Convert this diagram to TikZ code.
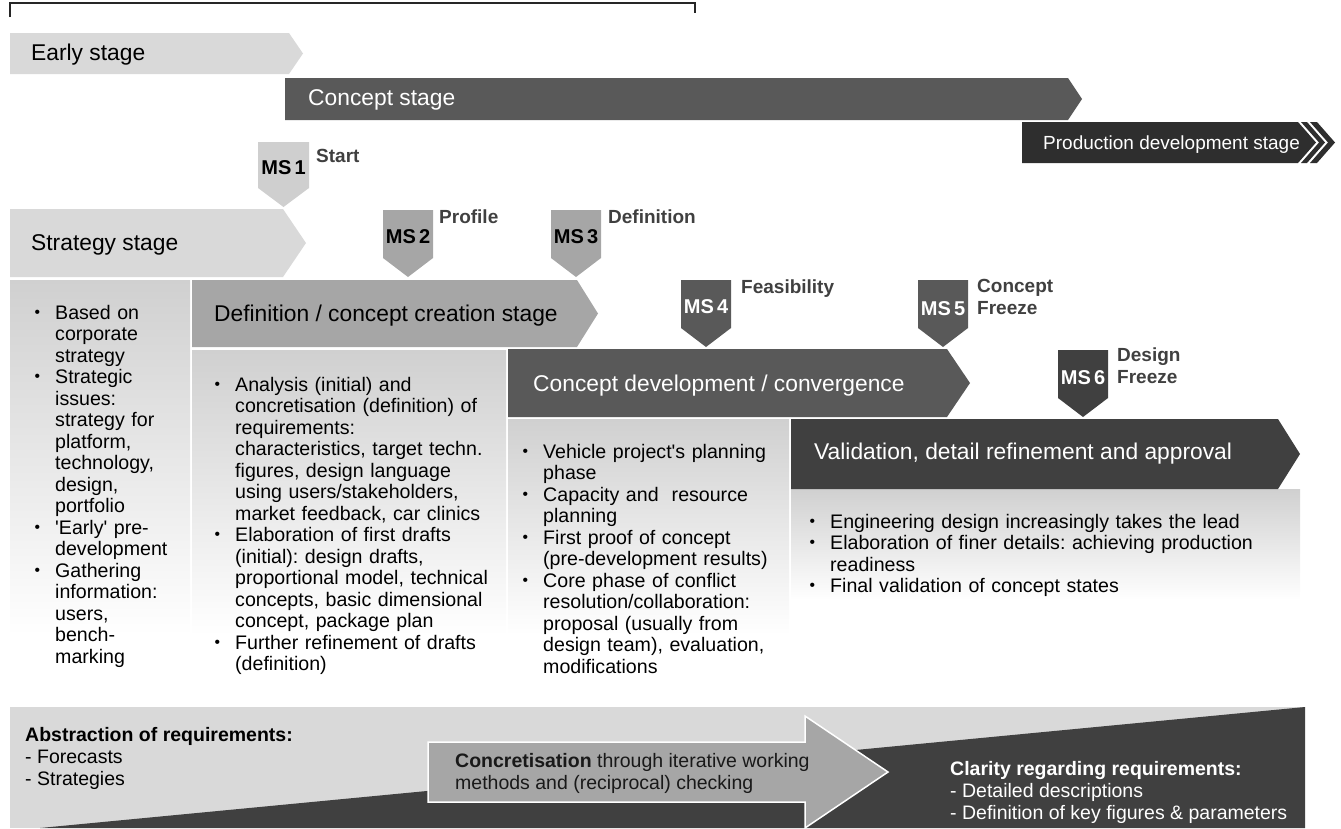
\documentclass[tikz,border=0pt]{standalone}
\usepackage{fontspec}
\setmainfont{Liberation Sans}
\usepackage{graphicx}
\usepackage{enumitem}
\usetikzlibrary{positioning}

\definecolor{stLight}{HTML}{D9D9D9}
\definecolor{msLight}{HTML}{CFCFCF}
\definecolor{stMid}{HTML}{A6A6A6}
\definecolor{stDark}{HTML}{595959}
\definecolor{stDarker}{HTML}{404040}
\definecolor{stDeep}{HTML}{2E2E2E}
\definecolor{labGrey}{HTML}{404040}
\definecolor{colTop}{HTML}{D0D0D0}

\newcommand\stagefont{\fontsize{22.8}{27}\selectfont}
\newcommand\prodfont{\fontsize{19}{23}\selectfont}
\newcommand\txtfont{\fontsize{19.6}{21.5}\selectfont}
\newcommand\bandfont{\fontsize{19.5}{22}\selectfont}
\newcommand\msfont{\fontsize{19}{22}\selectfont\bfseries}
\newcommand\msnum{\fontsize{20}{22}\selectfont\bfseries}
\frenchspacing

\newlist{blist}{itemize}{1}
\setlist[blist]{label={\raisebox{0.12em}{\scalebox{0.8}{\textbullet}}}, leftmargin=20pt,
  labelsep=15pt, itemsep=0pt, topsep=0pt, parsep=0pt, partopsep=0pt}

\begin{document}
\begin{tikzpicture}[x=1pt, y=-1pt,
  stagelab/.style={anchor=base west, inner sep=0pt, font=\stagefont},
  mstxt/.style={anchor=base, inner sep=0pt, font=\msnum},
  mslab/.style={anchor=base west, inner sep=0pt, font=\msfont, text=labGrey},
  mslabb/.style={anchor=north west, inner sep=0pt, font=\msfont, text=labGrey, align=left},
  bul/.style={anchor=north west, inner sep=0pt, font=\txtfont, align=left},
  bandtxt/.style={anchor=north west, inner sep=0pt, font=\bandfont, align=left}]
\useasboundingbox (0,0) rectangle (1341,828);

% bracket over the top
\draw[line width=2pt, color=black!85] (10,17) -- (10,3) -- (695,3) -- (695,13);

% text columns (fading backgrounds)
\shade[top color=colTop, bottom color=white] (10,280) rectangle (190,635);
\shade[top color=colTop, bottom color=white] (192,350) rectangle (506,635);
\shade[top color=colTop, bottom color=white] (508,419) rectangle (789,635);
\shade[top color=colTop, bottom color=white] (791,489) rectangle (1300,600);

% stage bars
\fill[stLight] (10,33) -- (289,33) -- (303,53.5) -- (289,74) -- (10,74) -- cycle;
\fill[stDark] (285,78) -- (1068,78) -- (1082,99) -- (1068,120) -- (285,120) -- cycle;
\fill[stDeep] (1022,122) -- (1298,122) -- (1316,142.5) -- (1298,163) -- (1022,163) -- cycle;
\fill[stDeep] (1301,122) -- (1307,122) -- (1325,142.5) -- (1307,163) -- (1301,163) -- (1319,142.5) -- cycle;
\fill[stDeep] (1310,122) -- (1317,122) -- (1335,142.5) -- (1317,163) -- (1310,163) -- (1328,142.5) -- cycle;
\fill[stLight] (10,209) -- (283,209) -- (306,243) -- (283,277) -- (10,277) -- cycle;
\fill[stMid] (192,280) -- (577,280) -- (598,313.5) -- (577,347) -- (192,347) -- cycle;
\fill[stDark] (508,349) -- (947,349) -- (970,383) -- (947,417) -- (508,417) -- cycle;
\fill[stDarker] (791,419) -- (1278,419) -- (1300,454) -- (1278,489) -- (791,489) -- cycle;

\node[stagelab] (early) at (31,60.5) {Early stage};
\node[stagelab, text=white] (concept) at (308,105) {Concept stage};
\node[anchor=base west, inner sep=0pt, font=\prodfont, text=white] (prod) at (1043,149) {Production development stage};
\node[stagelab] (strat) at (31,250) {Strategy stage};
\node[stagelab] (defn) at (214,321) {Definition / concept creation stage};
\node[stagelab, text=white] (cdev) at (533,391) {Concept development / convergence};
\node[stagelab, text=white] (valid) at (814,459) {Validation, detail refinement and approval};

% milestones
\fill[msLight] (258,142) -- (309,142) -- (309,188) -- (283.5,207) -- (258,188) -- cycle;
\fill[stMid] (383,210) -- (433,210) -- (433,258) -- (408,277) -- (383,258) -- cycle;
\fill[stMid] (551,210) -- (601,210) -- (601,258) -- (576,277) -- (551,258) -- cycle;
\fill[stDark] (681,280) -- (731,280) -- (731,328) -- (706,347) -- (681,328) -- cycle;
\fill[stDark] (918,280) -- (968,280) -- (968,328) -- (943,347) -- (918,328) -- cycle;
\fill[stDarker] (1058,350) -- (1108,350) -- (1108,398) -- (1083,417) -- (1058,398) -- cycle;

\node[mstxt] (ms1) at (283.5,174) {MS\hspace{0.16em}1};
\node[mstxt] (ms2) at (408,243) {MS\hspace{0.16em}2};
\node[mstxt] (ms3) at (576,243) {MS\hspace{0.16em}3};
\node[mstxt, text=white] (ms4) at (706,313) {MS\hspace{0.16em}4};
\node[mstxt, text=white] (ms5) at (943,315) {MS\hspace{0.16em}5};
\node[mstxt, text=white] (ms6) at (1083,384) {MS\hspace{0.16em}6};

\node[mslab] (start) at (316,162) {Start};
\node[mslab] (profile) at (439,223) {Profile};
\node[mslab] (definition) at (608,223) {Definition};
\node[mslab] (feasib) at (741,293) {Feasibility};
\node[mslabb] (cfreeze) at (977,278.7) {Concept\\Freeze};
\node[mslabb] (dfreeze) at (1117,347.7) {Design\\Freeze};

% bullet texts
\node[bul, text width=150pt] (txtstrat) at (35,297.7) {\begin{blist}
  \item Based on\\corporate\\strategy
  \item Strategic\\issues:\\strategy for\\platform,\\technology,\\design,\\portfolio
  \item \textquotesingle Early\textquotesingle{} pre-\\development
  \item Gathering\\information:\\users,\\bench-\\marking
\end{blist}};
\node[bul, text width=288pt] (txtdefn) at (215,369.7) {\begin{blist}
  \item Analysis (initial) and\\concretisation (definition) of\\requirements:\\characteristics, target techn.\\figures, design language\\using users/stakeholders,\\market feedback, car clinics
  \item Elaboration of first drafts\\(initial): design drafts,\\proportional model, technical\\concepts, basic dimensional\\concept, package plan
  \item Further refinement of drafts\\(definition)
\end{blist}};
\node[bul, text width=262pt] (txtcdev) at (523,436.7) {\begin{blist}
  \item Vehicle project\textquotesingle s planning\\phase
  \item Capacity and\ \ resource\\planning
  \item First proof of concept\\(pre-development results)
  \item Core phase of conflict\\resolution/collaboration:\\proposal (usually from\\design team), evaluation,\\modifications
\end{blist}};
\node[bul, text width=480pt] (txtvalid) at (810,506.7) {\begin{blist}
  \item Engineering design increasingly takes the lead
  \item Elaboration of finer details: achieving production\\readiness
  \item Final validation of concept states
\end{blist}};

% bottom band
\fill[stLight] (10,707) rectangle (1305,828);
\fill[stDarker] (40,828) -- (1305,707) -- (1305,828) -- cycle;
\fill[stMid, draw=white, line width=1.5pt] (428,742) -- (805,742) -- (805,716) -- (888,772) -- (805,828) -- (805,802) -- (428,802) -- cycle;

\node[bandtxt] (abstr) at (25,727) {\textbf{Abstraction of requirements:}\\- Forecasts\\- Strategies};
\node[bandtxt, text=black!90] (concr) at (455,753.5) {\textbf{Concretisation} through iterative working\\methods and (reciprocal) checking};
\node[bandtxt, text=white] (clar) at (950,761.5) {\textbf{Clarity regarding requirements:}\\- Detailed descriptions\\- Definition of key figures \& parameters};
\end{tikzpicture}
\end{document}
